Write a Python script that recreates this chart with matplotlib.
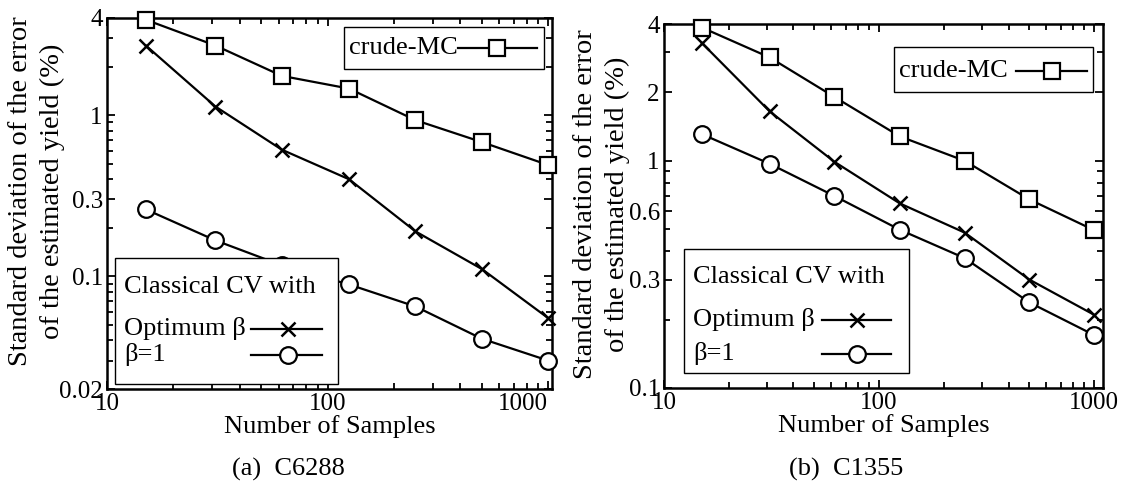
import matplotlib
matplotlib.use('agg')
import matplotlib.pyplot as plt
from matplotlib.patches import Rectangle
from matplotlib.lines import Line2D
from matplotlib.ticker import LogLocator, NullFormatter, FixedLocator

plt.rcParams['font.family'] = ['Liberation Serif', 'DejaVu Serif']

# number of samples (same for both circuits)
samples = [15, 31, 62, 125, 250, 500, 1000]

# (a) C6288
c6288_crude = [3.9, 2.7, 1.75, 1.46, 0.93, 0.68, 0.49]
c6288_opt = [2.7, 1.13, 0.61, 0.40, 0.19, 0.111, 0.055]
c6288_beta1 = [0.26, 0.167, 0.117, 0.089, 0.065, 0.041, 0.030]
c6288_yticks = [0.02, 0.1, 0.3, 1, 4]
c6288_yticklabels = ['0.02', '0.1', '0.3', '1', '4']

# (b) C1355
c1355_crude = [3.86, 2.85, 1.91, 1.28, 1.0, 0.676, 0.495]
c1355_opt = [3.3, 1.65, 0.99, 0.649, 0.483, 0.30, 0.21]
c1355_beta1 = [1.31, 0.97, 0.70, 0.497, 0.373, 0.238, 0.171]
c1355_yticks = [0.1, 0.3, 0.6, 1, 2, 4]
c1355_yticklabels = ['0.1', '0.3', '0.6', '1', '2', '4']

xticks = [10, 100, 1000]
xticklabels = ['10', '100', '1000']

LW = 1.6
MS = 11
style_crude = dict(color='k', lw=LW, marker='s', ms=MS, mfc='white', mec='k', mew=1.6)
style_opt = dict(color='k', lw=LW, marker='x', ms=MS - 1, mec='k', mew=1.8)
style_beta = dict(color='k', lw=LW, marker='o', ms=MS + 1, mfc='white', mec='k', mew=1.6)

W, H = 1125, 487
fig = plt.figure(figsize=(W / 100, H / 100), dpi=100)


def px_axes(x0, y0, x1, y1):
    return fig.add_axes([x0 / W, 1 - y1 / H, (x1 - x0) / W, (y1 - y0) / H])


def legend_row(ax, text, y, tx, lx0, lx1, mx, style, fs=19):
    ax.text(tx, y, text, transform=ax.transAxes, fontsize=fs, va='center', ha='left',
            zorder=7)
    ax.add_line(Line2D([lx0, lx1], [y, y], transform=ax.transAxes, color='k', lw=LW,
                       clip_on=False, zorder=6))
    st = dict(style)
    st.pop('lw')
    st.pop('color')
    ax.add_line(Line2D([mx], [y], transform=ax.transAxes, ls='none', clip_on=False,
                       zorder=7, **st))


def draw_panel(ax, crude, opt, beta1, yticks, yticklabels, ylim, xmax, shift_last):
    ax.plot(samples, crude, clip_on=False, zorder=4, **style_crude)
    ax.plot(samples, opt, clip_on=False, zorder=4, **style_opt)
    ax.plot(samples, beta1, clip_on=False, zorder=4, **style_beta)
    ax.set_xscale('log')
    ax.set_yscale('log')
    ax.set_xlim(10, xmax)
    ax.set_ylim(*ylim)
    ax.xaxis.set_major_locator(FixedLocator(xticks))
    ax.set_xticklabels(xticklabels)
    ax.yaxis.set_major_locator(FixedLocator(yticks))
    ax.set_yticklabels(yticklabels)
    for axis in (ax.xaxis, ax.yaxis):
        axis.set_minor_locator(LogLocator(base=10, subs=range(2, 10), numticks=20))
        axis.set_minor_formatter(NullFormatter())
    ax.tick_params(which='both', direction='in', top=True, right=True, width=1.3,
                   labelsize=18, pad=3)
    ax.tick_params(which='major', length=6)
    ax.tick_params(which='minor', length=4)
    for sp in ax.spines.values():
        sp.set_linewidth(1.8)
    if shift_last:
        ax.get_xticklabels()[-1].set_ha('right')
    ax.set_xlabel('Number of Samples', fontsize=19, labelpad=0)


# ---------- (a) C6288
ax1 = px_axes(107, 18, 552, 389)
draw_panel(ax1, c6288_crude, c6288_opt, c6288_beta1, c6288_yticks, c6288_yticklabels,
           (0.02, 4), 1040, True)
ax1.add_patch(Rectangle((0.533, 0.862), 0.449, 0.115, transform=ax1.transAxes,
                        fc='white', ec='k', lw=1.0, zorder=5))
legend_row(ax1, 'crude-MC', 0.918, 0.544, 0.789, 0.966, 0.877, style_crude)
ax1.add_patch(Rectangle((0.018, 0.013), 0.501, 0.340, transform=ax1.transAxes,
                        fc='white', ec='k', lw=1.0, zorder=5))
ax1.text(0.038, 0.275, 'Classical CV with', transform=ax1.transAxes, fontsize=19,
         va='center', ha='left', zorder=7)
legend_row(ax1, 'Optimum β', 0.162, 0.038, 0.324, 0.483, 0.407, style_opt)
legend_row(ax1, 'β=1', 0.092, 0.038, 0.324, 0.483, 0.407, style_beta)

# ---------- (b) C1355
ax2 = px_axes(664, 24, 1103, 388)
draw_panel(ax2, c1355_crude, c1355_opt, c1355_beta1, c1355_yticks, c1355_yticklabels,
           (0.1, 4), 1100, False)
ax2.add_patch(Rectangle((0.524, 0.813), 0.454, 0.124, transform=ax2.transAxes,
                        fc='white', ec='k', lw=1.0, zorder=5))
legend_row(ax2, 'crude-MC', 0.871, 0.535, 0.802, 0.964, 0.884, style_crude)
ax2.add_patch(Rectangle((0.045, 0.041), 0.513, 0.341, transform=ax2.transAxes,
                        fc='white', ec='k', lw=1.0, zorder=5))
ax2.text(0.066, 0.305, 'Classical CV with', transform=ax2.transAxes, fontsize=19,
         va='center', ha='left', zorder=7)
legend_row(ax2, 'Optimum β', 0.188, 0.066, 0.36, 0.518, 0.44, style_opt)
legend_row(ax2, 'β=1', 0.094, 0.066, 0.36, 0.518, 0.44, style_beta)

# y labels and captions
ylab = 'Standard deviation of the error\nof the estimated yield (%)'
fig.text(36.5 / W, 1 - 191 / H, ylab, rotation=90, ha='center', va='center',
         fontsize=20.5, linespacing=1.4, multialignment='center')
fig.text(601.5 / W, 1 - 204 / H, ylab, rotation=90, ha='center', va='center',
         fontsize=20.5, linespacing=1.4, multialignment='center')
fig.text(288 / W, 1 - 469 / H, '(a)  C6288', ha='center', va='center', fontsize=19)
fig.text(846 / W, 1 - 469 / H, '(b)  C1355', ha='center', va='center', fontsize=19)

plt.savefig('out.png', dpi=100)
